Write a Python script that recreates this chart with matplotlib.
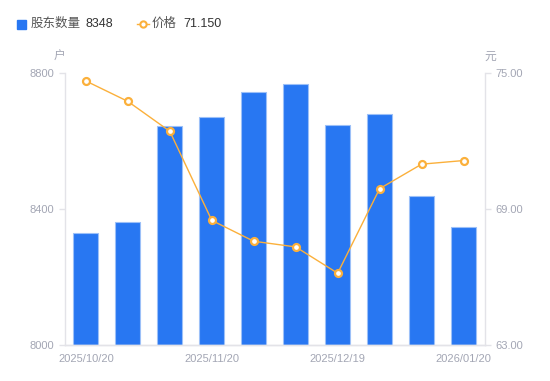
import matplotlib.pyplot as plt

plt.rcParams['font.family'] = ['Liberation Sans', 'Noto Sans CJK SC', 'DejaVu Sans']

# Data
dates = ['2025/10/20', '2025/10/31', '2025/11/10', '2025/11/20', '2025/11/28',
         '2025/12/10', '2025/12/19', '2025/12/31', '2026/01/09', '2026/01/20']
holders = [8331, 8364, 8644, 8671, 8744, 8768, 8647, 8679, 8439, 8348]
prices = [74.66, 73.76, 72.44, 68.51, 67.59, 67.34, 66.18, 69.91, 70.99, 71.15]
shown_ticks = [0, 3, 6, 9]
left_ticks = [8000, 8400, 8800]
right_ticks = [63.0, 69.0, 75.0]

BLUE = '#2877f2'
ORANGE = '#fbb03b'
GRAY = '#a3a6b4'
AXIS = '#e3e3e8'

fig = plt.figure(figsize=(5.5, 3.81), dpi=100)
ax = fig.add_axes([0.118, 0.0937, 0.763, 0.714])
x = list(range(len(dates)))

ax.bar(x, [h - left_ticks[0] for h in holders], bottom=left_ticks[0], width=0.6,
       color=BLUE, edgecolor='#9cc0f8', linewidth=0.8)
ax.set_xlim(-0.5, len(dates) - 0.5)
ax.set_ylim(left_ticks[0], left_ticks[-1])
ax.set_yticks(left_ticks)
ax.set_xticks(shown_ticks)
ax.set_xticklabels([dates[i] for i in shown_ticks])

ax2 = ax.twinx()
ax2.plot(x, prices, color=ORANGE, linewidth=1, marker='o', markersize=5,
         markerfacecolor='white', markeredgecolor=ORANGE, markeredgewidth=1.6)
ax2.set_ylim(right_ticks[0], right_ticks[-1])
ax2.set_yticks(right_ticks)
ax2.set_yticklabels([f'{v:.2f}' for v in right_ticks])

for a in (ax, ax2):
    for s in a.spines.values():
        s.set_color(AXIS)
        s.set_linewidth(1)
    a.spines['top'].set_visible(False)
    a.tick_params(colors=AXIS, labelcolor=GRAY, labelsize=8, length=4, width=1)
ax.tick_params(axis='x', length=0, pad=6)
ax.spines['right'].set_visible(False)
ax2.spines['left'].set_visible(False)

# unit labels
fig.text(59 / 550, 1 - 57 / 381, '户', color=GRAY, fontsize=8.5, ha='center', va='center')
fig.text(490 / 550, 1 - 57 / 381, '元', color=GRAY, fontsize=8.5, ha='center', va='center')

# legend row
ly = 1 - 24 / 381
fig.patches.append(plt.Rectangle((17 / 550, 1 - 29 / 381), 9 / 550, 9 / 381,
                                 transform=fig.transFigure, color=BLUE, figure=fig))
fig.text(31 / 550, ly, '股东数量', color='#555555', fontsize=9, va='center')
fig.text(85 / 550, ly, f'{holders[-1]}', color='#333333', fontsize=9, va='center')
fig.add_artist(plt.Line2D([137 / 550, 143 / 550, 149 / 550], [ly, ly, ly],
                          transform=fig.transFigure, color=ORANGE, linewidth=1,
                          marker='o', markersize=4.5, markevery=[1],
                          markerfacecolor='white', markeredgecolor=ORANGE,
                          markeredgewidth=1.5))
fig.text(152 / 550, ly, '价格', color='#555555', fontsize=9, va='center')
fig.text(183 / 550, ly, f'{prices[-1]:.3f}', color='#333333', fontsize=9, va='center')

fig.savefig('out.png', dpi=100)
